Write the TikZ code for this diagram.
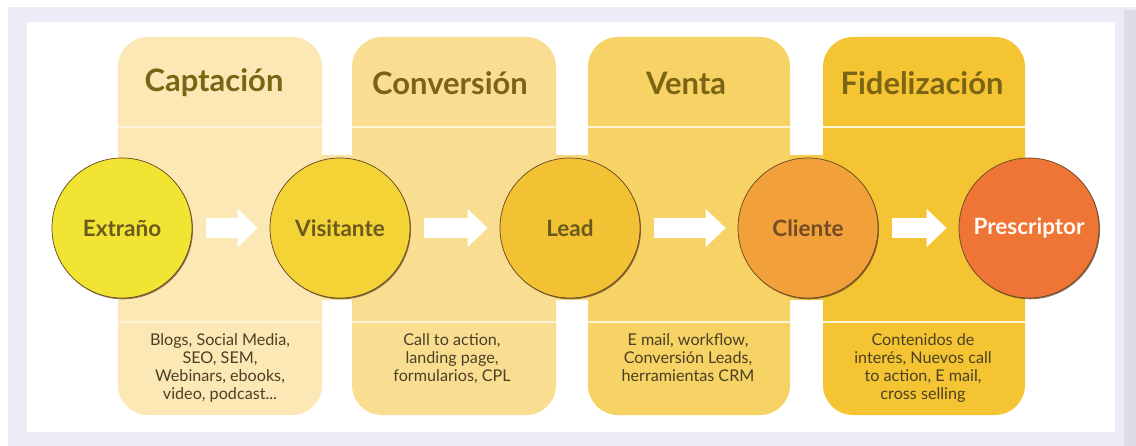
\documentclass[tikz,border=0pt]{standalone}
\usepackage{fontspec}
\setmainfont{Lato}
\usetikzlibrary{arrows.meta,shadows}

\definecolor{framecol}{HTML}{ECECF7}
\definecolor{edgecol}{HTML}{DCDCE4}
\definecolor{colA}{HTML}{FBE8B4}
\definecolor{colB}{HTML}{F9DE91}
\definecolor{colC}{HTML}{F7D264}
\definecolor{colD}{HTML}{F5C432}
\definecolor{gapA}{HTML}{FAE3A3}
\definecolor{gapB}{HTML}{F8D87A}
\definecolor{gapC}{HTML}{F6CB4B}
\definecolor{linecol}{HTML}{FDF3D6}
\definecolor{headtext}{HTML}{7B6414}
\definecolor{stagetext}{HTML}{6B5A1E}
\definecolor{bodytext}{HTML}{4A4024}
\definecolor{extr}{HTML}{F2E432}
\definecolor{visi}{HTML}{F3D336}
\definecolor{lead}{HTML}{F2C234}
\definecolor{clie}{HTML}{F1A03A}
\definecolor{pres}{HTML}{EE7535}

\tikzset{
  stage/.style={circle,minimum size=3.5cm,inner sep=0pt,draw=brown!55!black,line width=0.5pt,
    drop shadow={shadow xshift=0.7pt,shadow yshift=-0.9pt,opacity=0.7,fill=brown!50!black},
    font=\bfseries\fontsize{16}{18}\selectfont,text=stagetext},
  header/.style={font=\bfseries\fontsize{22}{26}\selectfont,text=headtext},
  body/.style={align=center,anchor=north,inner sep=0pt,font=\fontsize{11.5}{12.8}\selectfont,text=bodytext},
  divider/.style={draw=linecol,line width=1.4pt},
  flow/.style={white,line width=0.475cm,shorten <=0.33cm,shorten >=0.3cm,-{Triangle[width=0.925cm,length=0.5cm]}}
}

\begin{document}
\begin{tikzpicture}[x=0.025cm,y=-0.025cm]
\useasboundingbox (0,0) rectangle (1136,446);
% frame
\fill[framecol] (8,7) rectangle (1136,446);
\fill[edgecol] (1124,10) rectangle (1136,446);
\fill[white] (27,22) rectangle (1115,432);

% columns
\foreach \l/\r/\c in {118/322/colA,352/556/colB,588/790/colC,823/1025/colD}{
  \fill[\c,rounded corners=0.75cm] (\l,37) rectangle (\r,415);
  \draw[divider] (\l,127) -- (\r,127) (\l,322) -- (\r,322);
}
\fill[gapA] (321,155) rectangle (353,300);
\fill[gapB] (555,155) rectangle (589,300);
\fill[gapC] (789,155) rectangle (824,300);

% headers
\node[header] (captacion) at (214,83) {Captación};
\node[header] (conversion) at (450,83) {Conversión};
\node[header] (venta) at (686,83) {Venta};
\node[header] (fidelizacion) at (922,83) {Fidelización};

% stages
\node[stage,fill=extr] (extrano) at (122,228) {Extraño};
\node[stage,fill=visi] (visitante) at (340,228) {Visitante};
\node[stage,fill=lead] (lead) at (570,228) {Lead};
\node[stage,fill=clie,text=brown!60!black] (cliente) at (808,228) {Cliente};
\node[stage,fill=pres,text=white!95!orange] (prescriptor) at (1029,228) {Prescriptor};

\draw[flow] (extrano) -- (visitante);
\draw[flow] (visitante) -- (lead);
\draw[flow] (lead) -- (cliente);
\draw[flow] (cliente) -- (prescriptor);

% tools per column
\node[body] (herrA) at (220,333) {Blogs, Social Media,\\SEO, SEM,\\Webinars, ebooks,\\video, podcast...};
\node[body] (herrB) at (452,333) {Call to action,\\landing page,\\formularios, CPL};
\node[body] (herrC) at (688,333) {E mail, workflow,\\Conversión Leads,\\herramientas CRM};
\node[body] (herrD) at (923,333) {Contenidos de\\interés, Nuevos call\\to action, E mail,\\cross selling};
\end{tikzpicture}
\end{document}
